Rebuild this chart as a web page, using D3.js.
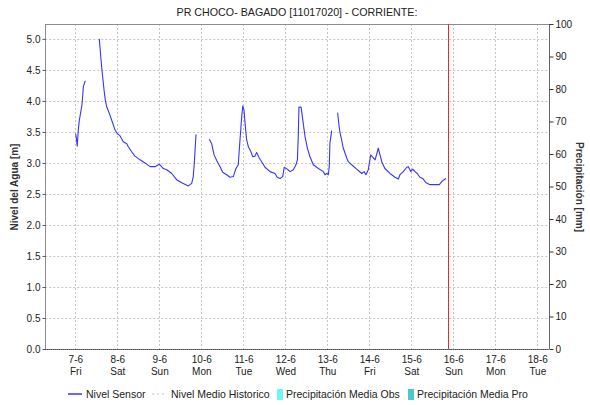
<!DOCTYPE html>
<html><head><meta charset="utf-8">
<script src="https://cdn.jsdelivr.net/npm/d3@7"></script>
<style>
body{margin:0;background:#fff;}
svg{display:block;font-family:"Liberation Sans",Arial,sans-serif;}
</style></head>
<body>
<svg id="c" width="590" height="405"></svg>
<script>
// ---- data ----
const titleText = "PR CHOCO- BAGADO [11017020] - CORRIENTE:";
const dayLabels = ["7-6","8-6","9-6","10-6","11-6","12-6","13-6","14-6","15-6","16-6","17-6","18-6"];
const weekdayLabels = ["Fri","Sat","Sun","Mon","Tue","Wed","Thu","Fri","Sat","Sun","Mon","Tue"];
const levelTicks = [0,0.5,1,1.5,2,2.5,3,3.5,4,4.5,5];
const precipTicks = [0,10,20,30,40,50,60,70,80,90,100];
// hours since 7-6-2024 00:00, water level [m]; null = gap
const sensorHours = [0.2,0.6,1.1,1.7,2.3,3.3,3.8,4.2,4.6,5.5,5.9,
  9.8,
  13.7,14.7,15.4,16.4,17.1,17.9,19.8,21.4,22.7,24.0,25.5,27.4,29.4,30.3,32.2,34.1,37.0,39.8,42.7,45.5,48.0,50.3,52.2,55.1,57.9,60.8,64.6,66.5,67.4,68.0,68.6,69.0,
  72.8,
  76.6,77.9,79.3,80.8,82.7,84.2,86.5,88.4,90.3,91.8,93.1,94.1,95.1,95.7,96.4,97.0,97.9,98.9,100.2,101.4,102.7,103.6,105.1,106.5,108.4,111.3,114.1,115.4,117.0,118.5,119.4,121.1,122.7,124.6,126.1,126.9,127.4,127.8,129.0,130.0,131.3,132.6,134.1,136.0,138.9,141.7,142.7,143.7,144.6,145.1,145.5,146.5,
  148.2,
  149.9,150.7,151.3,152.2,153.1,154.1,155.1,156.0,157.9,160.8,163.7,165.0,166.1,167.4,168.8,169.7,171.3,172.6,173.1,174.1,175.1,176.9,179.8,182.7,184.6,185.5,187.4,189.4,190.3,191.7,192.8,194.1,195.4,196.9,198.5,200.4,202.7,205.5,208.0,209.4,210.7,211.8];
const sensorLevel = [3.47,3.40,3.27,3.53,3.69,3.85,3.94,4.07,4.23,4.31,4.32,
  null,
  5.00,4.66,4.45,4.18,4.02,3.91,3.77,3.64,3.53,3.47,3.44,3.34,3.31,3.26,3.18,3.11,3.05,3.00,2.94,2.94,2.98,2.91,2.89,2.83,2.73,2.68,2.63,2.67,2.78,3.00,3.29,3.46,
  null,
  3.38,3.31,3.13,3.04,2.94,2.85,2.81,2.77,2.78,2.91,2.97,3.37,3.75,3.92,3.85,3.64,3.37,3.26,3.19,3.10,3.11,3.17,3.08,3.02,2.93,2.86,2.83,2.77,2.75,2.78,2.93,2.90,2.86,2.89,2.97,3.05,3.42,3.90,3.90,3.69,3.42,3.24,3.10,2.97,2.91,2.86,2.81,2.83,2.81,2.94,3.32,3.52,
  null,
  3.81,3.60,3.48,3.37,3.24,3.16,3.08,3.02,2.97,2.90,2.83,2.86,2.81,2.89,3.13,3.10,3.05,3.18,3.24,3.13,3.02,2.91,2.83,2.77,2.74,2.81,2.86,2.93,2.94,2.86,2.90,2.86,2.83,2.77,2.75,2.68,2.65,2.65,2.65,2.70,2.73,2.75];
const nowHour = 213.1; // red "now" marker, hours since 7-6 00:00
const legendItems = ["Nivel Sensor","Nivel Medio Historico","Precipitación Media Obs","Precipitación Media Pro"];

// ---- chart ----
const svg = d3.select("#c");
const base = Date.UTC(2024,5,7,0,0);
const toDate = h => new Date(base + h*3600e3);
const L=45.3, R=549.3, T=24, B=349;
const x = d3.scaleUtc().domain([toDate(-17.15), toDate(270.85)]).range([L,R]);
const y = d3.scaleLinear().domain([0,5.24]).range([B,T]);
const y2 = d3.scaleLinear().domain([0,100]).range([B,T]);
const days = dayLabels.map((d,i)=>toDate(24*i));

svg.append("rect").attr("width",590).attr("height",405).attr("fill","#fff");

// grid
const grid = svg.append("g").attr("stroke","#c4c4c4").attr("stroke-dasharray","2,2").attr("stroke-width",1);
levelTicks.slice(1).forEach(v=>{
  grid.append("line").attr("x1",L).attr("x2",R).attr("y1",Math.round(y(v))+0.5).attr("y2",Math.round(y(v))+0.5);
});
days.forEach(d=>{
  grid.append("line").attr("x1",Math.round(x(d))+0.5).attr("x2",Math.round(x(d))+0.5).attr("y1",T).attr("y2",B);
});

// frame
svg.append("line").attr("x1",L).attr("x2",R).attr("y1",T+0.5).attr("y2",T+0.5).attr("stroke","#8c8c8c");

// left axis
const ya = svg.append("g").attr("transform",`translate(${Math.round(L)+0.5},0)`)
  .call(d3.axisLeft(y).tickValues(levelTicks).tickFormat(d3.format(".1f")).tickSize(3).tickSizeOuter(0));
ya.select(".domain").attr("stroke","#8c8c8c").attr("d",`M0,${T}V${B}`);
ya.selectAll(".tick line").attr("stroke","#555");
ya.selectAll("text").attr("font-size",10).attr("fill","#222").attr("font-family","Liberation Sans, Arial, sans-serif").attr("x",-5);

// right axis
const y2a = svg.append("g").attr("transform",`translate(${Math.round(R)+0.5},0)`)
  .call(d3.axisRight(y2).tickValues(precipTicks).tickSize(4).tickSizeOuter(0));
y2a.select(".domain").attr("stroke","#666").attr("d",`M0,${T}V${B}`);
y2a.selectAll(".tick line").attr("stroke","#333");
y2a.selectAll("text").attr("font-size",10).attr("fill","#222").attr("font-family","Liberation Sans, Arial, sans-serif").attr("x",6);

// bottom axis
const xa = svg.append("g").attr("transform",`translate(0,${B+0.5})`)
  .call(d3.axisBottom(x).tickValues(days).tickSize(0).tickFormat((d,i)=>dayLabels[i]));
xa.select(".domain").attr("stroke","#999").attr("d",`M${L},0H${R}`);
xa.append("line").attr("x1",L).attr("x2",R).attr("stroke","#333").attr("stroke-dasharray","1,1");
xa.selectAll(".tick text").attr("font-size",10).attr("fill","#222").attr("font-family","Liberation Sans, Arial, sans-serif").attr("y",6)
  .each(function(d,i){
    d3.select(this).append("tspan").attr("x",0).attr("dy","1.2em").text(weekdayLabels[i]);
  });

// sensor line
const line = d3.line().defined((d,i)=>sensorLevel[i]!==null)
  .x((d,i)=>x(toDate(sensorHours[i]))).y((d,i)=>y(sensorLevel[i] ?? 0));
svg.append("path").datum(sensorHours).attr("d",line).attr("fill","none")
  .attr("stroke","#3535ff").attr("stroke-width",1.1).attr("stroke-linejoin","round");

// now marker
svg.append("line").attr("x1",Math.round(x(toDate(nowHour)))+0.5).attr("x2",Math.round(x(toDate(nowHour)))+0.5)
  .attr("y1",T).attr("y2",B).attr("stroke","#ff2020").attr("stroke-width",1);

// title
svg.append("text").attr("x",297).attr("y",16).attr("text-anchor","middle").attr("font-size",10.7).attr("fill","#222").text(titleText);

// axis titles
svg.append("text").attr("transform","translate(18,187) rotate(-90)").attr("text-anchor","middle")
  .attr("font-size",10).attr("font-weight","bold").attr("fill","#333").text("Nivel del Agua [m]");
svg.append("text").attr("transform","translate(576,187) rotate(90)").attr("text-anchor","middle")
  .attr("font-size",10).attr("font-weight","bold").attr("fill","#333").text("Precipitación [mm]");

// legend
const lg = svg.append("g").attr("font-size",10.5).attr("fill","#222");
const ly = 394;
lg.append("line").attr("x1",68).attr("x2",82).attr("y1",ly).attr("y2",ly).attr("stroke","#0000ff").attr("stroke-width",1.2);
lg.append("text").attr("x",86).attr("y",ly+4).text(legendItems[0]);
lg.append("line").attr("x1",152).attr("x2",167).attr("y1",ly).attr("y2",ly).attr("stroke","#c0c0c0").attr("stroke-dasharray","2,3");
lg.append("text").attr("x",171).attr("y",ly+4).text(legendItems[1]);
lg.append("rect").attr("x",277).attr("y",ly-5).attr("width",6).attr("height",11).attr("fill","#6ff4fa");
lg.append("text").attr("x",286).attr("y",ly+4).text(legendItems[2]);
lg.append("rect").attr("x",408).attr("y",ly-5).attr("width",6).attr("height",11).attr("fill","#4cc9c9");
lg.append("text").attr("x",417).attr("y",ly+4).text(legendItems[3]);
</script>
</body></html>
